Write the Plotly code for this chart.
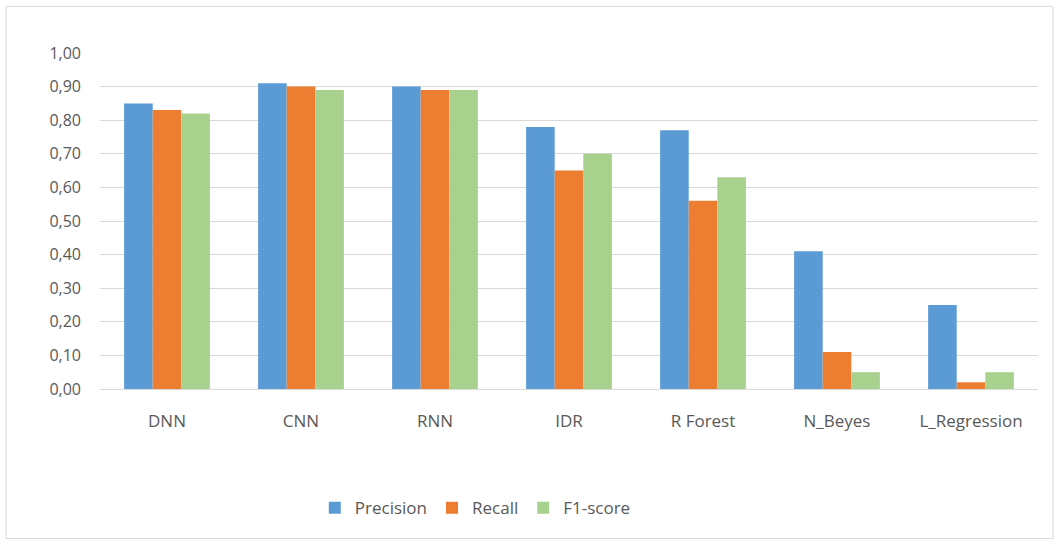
import plotly.graph_objects as go

# Classifier comparison: precision, recall and F1-score per model
models = ["DNN", "CNN", "RNN", "IDR", "R Forest", "N_Beyes", "L_Regression"]
precision = [0.85, 0.91, 0.90, 0.78, 0.77, 0.41, 0.25]
recall = [0.83, 0.90, 0.89, 0.65, 0.56, 0.11, 0.02]
f1_score = [0.82, 0.89, 0.89, 0.70, 0.63, 0.05, 0.05]

y_ticks = [0.0, 0.1, 0.2, 0.3, 0.4, 0.5, 0.6, 0.7, 0.8, 0.9, 1.0]

FONT = "Open Sans"
TEXT = "#595959"

fig = go.Figure()
for name, vals, color in [
    ("Precision", precision, "#5B9BD5"),
    ("Recall", recall, "#ED7D31"),
    ("F1-score", f1_score, "#A9D18E"),
]:
    fig.add_trace(go.Bar(name=name, x=models, y=vals, marker=dict(color=color, line=dict(width=0))))

fig.update_layout(
    width=1057,
    height=539,
    margin=dict(l=100, r=19, t=53, b=150),
    paper_bgcolor="white",
    plot_bgcolor="white",
    separators=", ",
    barmode="group",
    bargap=0.36,
    bargroupgap=0.0,
    font=dict(family=FONT, color=TEXT, size=16),
    showlegend=True,
    legend=dict(
        orientation="h",
        x=0.229,
        xanchor="left",
        y=-0.355,
        yanchor="middle",
        font=dict(size=17, color=TEXT),
        itemwidth=30,
        traceorder="normal",
    ),
    xaxis=dict(
        showgrid=False,
        showline=True,
        linecolor="#d9d9d9",
        linewidth=1,
        ticks="",
        tickfont=dict(size=17, color=TEXT),
        ticklabelstandoff=17,
    ),
    yaxis=dict(
        range=[0, 1.0],
        tickvals=y_ticks,
        tickformat=".2f",
        showgrid=True,
        gridcolor="#d9d9d9",
        gridwidth=1,
        zeroline=False,
        showline=False,
        ticks="",
        tickfont=dict(size=16, color=TEXT),
        ticklabelstandoff=18,
    ),
    shapes=[
        dict(
            type="rect",
            xref="paper",
            yref="paper",
            x0=-0.1002,
            x1=1.016,
            y0=-0.445,
            y1=1.139,
            line=dict(color="#d9d9d9", width=1),
            fillcolor="rgba(0,0,0,0)",
            layer="below",
        )
    ],
)

fig.write_html("out.html")
